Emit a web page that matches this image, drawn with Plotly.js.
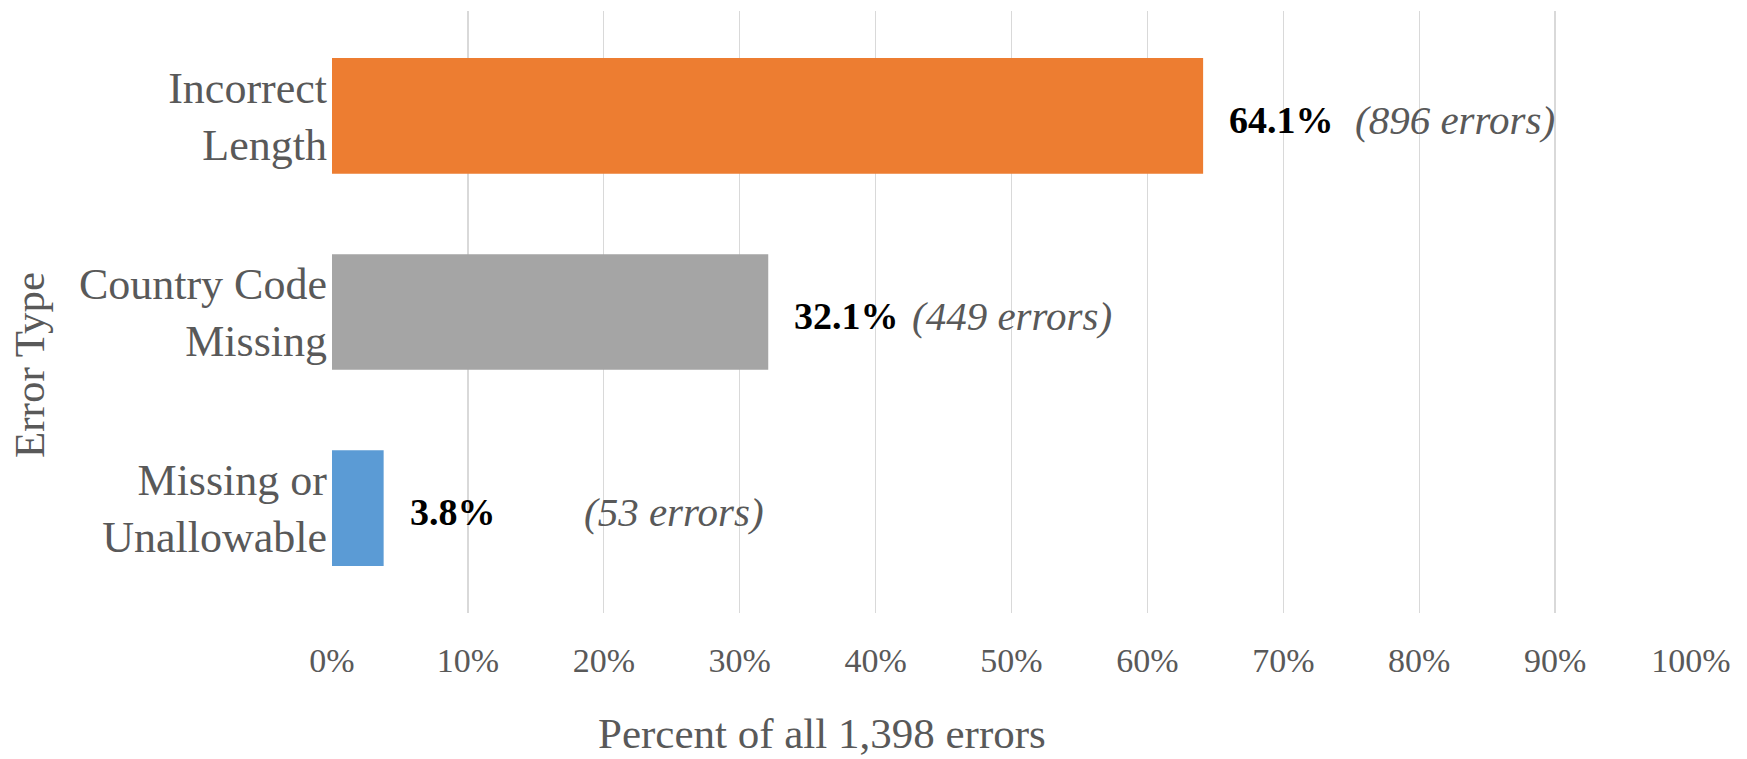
<!DOCTYPE html>
<html>
<head>
<meta charset="utf-8">
<script src="https://cdn.plot.ly/plotly-3.0.1.min.js"></script>
<style>
  html, body { margin: 0; padding: 0; background: #ffffff; }
  #chart { width: 1747px; height: 759px; }
</style>
</head>
<body>
<div id="chart"></div>
<script>
// Error types, listed top to bottom
const categories = ["Incorrect<br>Length", "Country Code<br>Missing", "Missing or<br>Unallowable"];
// Share of all errors (%)
const percentValues = [64.1, 32.1, 3.8];
// Number of errors per type
const errorCounts = [896, 449, 53];
// Percent axis ticks
const tickValues = [0, 10, 20, 30, 40, 50, 60, 70, 80, 90, 100];
const tickLabels = ["0%", "10%", "20%", "30%", "40%", "50%", "60%", "70%", "80%", "90%", "100%"];

// Styling
const barColors = ["#ED7D31", "#A5A5A5", "#5B9BD5"];
const countLabelShift = [150, 142, 198];  // px from bar end to the count label
const textGray = "#595959";
const serif = "Liberation Serif, Times New Roman, serif";

const trace = {
  type: "bar",
  orientation: "h",
  x: percentValues,
  y: categories,
  width: 0.59,
  marker: { color: barColors, line: { width: 0 } },
  hoverinfo: "skip"
};

const annotations = [];
categories.forEach((cat, i) => {
  annotations.push({
    x: percentValues[i], y: cat, xref: "x", yref: "y",
    text: "<b>" + percentValues[i].toFixed(1) + "%</b>",
    showarrow: false, xanchor: "left", yanchor: "middle",
    xshift: 24, yshift: -4,
    font: { family: serif, size: 38, color: "#000000" }
  });
  annotations.push({
    x: percentValues[i], y: cat, xref: "x", yref: "y",
    text: "<i>(" + errorCounts[i] + " errors)</i>",
    showarrow: false, xanchor: "left", yanchor: "middle",
    xshift: countLabelShift[i], yshift: -4,
    font: { family: serif, size: 41, color: textGray }
  });
});

// Axis titles
annotations.push({
  text: "Error Type", xref: "paper", yref: "paper",
  x: -0.2222, y: 0.412, xanchor: "center", yanchor: "middle",
  textangle: -90, showarrow: false,
  font: { family: serif, size: 43, color: textGray }
});
annotations.push({
  text: "Percent of all 1,398 errors", xref: "paper", yref: "paper",
  x: 0.3606, y: -0.2410, xanchor: "center", yanchor: "bottom",
  showarrow: false, borderpad: 0,
  font: { family: serif, size: 43, color: textGray }
});

const layout = {
  width: 1747,
  height: 759,
  margin: { l: 332, r: 56, t: 11, b: 146, pad: 0 },
  paper_bgcolor: "#ffffff",
  plot_bgcolor: "#ffffff",
  showlegend: false,
  xaxis: {
    range: [0, 100],
    tickvals: tickValues,
    ticktext: tickLabels,
    showgrid: true,
    gridcolor: "#D9D9D9",
    gridwidth: 1.3,
    zeroline: false,
    showline: false,
    ticks: "",
    ticklabelstandoff: 24,
    tickfont: { family: serif, size: 34, color: textGray },
    fixedrange: true
  },
  yaxis: {
    type: "category",
    range: [2.535, -0.535],
    showgrid: false,
    zeroline: false,
    showline: false,
    ticks: "",
    ticklabelstandoff: 4,
    tickfont: { family: serif, size: 44, color: textGray },
    fixedrange: true
  },
  annotations: annotations
};

Plotly.newPlot("chart", [trace], layout, { displayModeBar: false, staticPlot: true });
</script>
</body>
</html>
